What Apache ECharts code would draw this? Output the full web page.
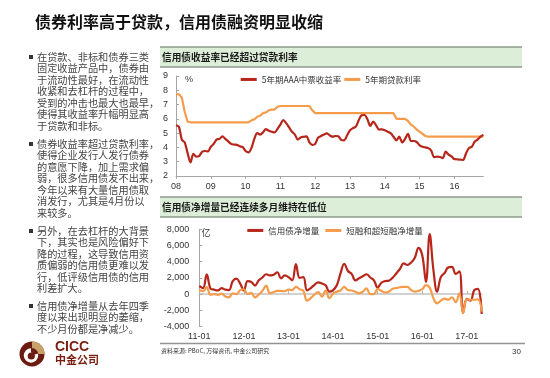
<!DOCTYPE html>
<html><head><meta charset="utf-8">
<script src="https://cdn.jsdelivr.net/npm/echarts@6/dist/echarts.min.js"></script>
<style>html,body{margin:0;padding:0;background:#fff;}#c{width:550px;height:378px;}</style>
</head><body><div id="c"></div>
<script>
// ---------- data ----------
const topMonths = [];
for (let y = 2008; y <= 2016; y++) for (let m = 1; m <= 12; m++) { if (y === 2016 && m > 11) break; topMonths.push(y + '-' + (m < 10 ? '0' + m : m)); }
const bottomMonths = [];
for (let y = 2011; y <= 2017; y++) for (let m = 1; m <= 12; m++) { if (y === 2017 && m > 5) break; bottomMonths.push(y + '-' + (m < 10 ? '0' + m : m)); }

const topTickLabels = ['08','09','10','11','12','13','14','15','16'];
const bottomTickLabels = ['11-01','12-01','13-01','14-01','15-01','16-01','17-01'];

const topSeriesNames = ['5年期AAA中票收益率', '5年期贷款利率'];
const bottomSeriesNames = ['信用债净增量', '短融和超短融净增量'];

const aaaYield = [
 5.55,5.45,4.55,4.35,3.6,2.95,3.55,3.35,3.4,3.7,3.75,3.72,
 4.05,4.25,4.55,4.6,4.78,4.6,4.42,4.25,4.2,4.18,4.08,4.02,
 3.75,3.65,3.95,4.6,5.0,4.9,5.05,5.28,5.17,5.1,5.05,5.3,
 5.6,5.92,5.7,5.4,5.1,4.9,4.55,4.7,4.75,4.78,4.35,4.18,
 4.25,4.68,4.8,4.9,4.98,4.85,4.75,4.8,4.78,4.52,4.5,4.85,
 5.2,5.35,5.45,5.9,6.25,6.27,5.97,5.5,5.8,5.55,5.25,5.27,
 5.2,5.1,5.0,4.75,4.5,4.75,4.35,4.6,4.95,4.45,4.45,4.38,
 4.15,4.05,4.0,3.95,3.78,3.32,3.35,3.33,3.25,3.7,3.5,3.38,
 3.18,3.17,3.15,3.12,3.58,3.95,4.05,4.4,4.55,4.75,4.88
];
const loanRate = [
 7.74,7.72,7.5,6.5,5.8,5.76,5.76,5.76,5.76,5.76,5.76,5.76,
 5.76,5.76,5.76,5.76,5.76,5.76,5.76,5.76,5.76,5.76,5.76,5.76,
 5.76,5.76,5.9,5.96,6.15,6.22,6.4,6.45,6.6,6.65,6.65,6.85,
 6.9,6.9,6.9,6.9,6.9,6.9,6.9,6.9,6.9,6.9,6.9,6.6,
 6.4,6.4,6.4,6.4,6.4,6.4,6.4,6.4,6.4,6.4,6.4,6.4,
 6.4,6.4,6.4,6.4,6.4,6.4,6.4,6.4,6.4,6.4,6.4,6.4,
 6.4,6.4,6.4,6.4,6.0,6.0,6.0,6.0,5.85,5.6,5.45,5.25,
 5.1,4.95,4.8,4.75,4.75,4.75,4.75,4.75,4.75,4.75,4.75,4.75,
 4.75,4.75,4.75,4.75,4.75,4.75,4.75,4.75,4.75,4.75,4.75
];
const creditNet = [
 1000,750,2450,700,550,450,750,550,500,1600,1900,1300,
 450,1600,1500,1050,1700,2050,2450,2300,2400,2700,1950,2300,
 2100,1700,3700,2000,2100,450,750,1150,1450,1300,1100,300,
 500,1100,2550,3750,2850,2500,1700,1950,2200,2450,2050,1700,
 800,1400,1600,1650,2000,2550,3100,3800,3600,3900,4500,5700,
 4800,1500,7400,3000,300,2100,2600,3300,3350,2500,2800,-2300,
 -600,-800,500,650,-2450
];
const shortTermNet = [
 500,350,850,-100,0,-100,50,-300,-400,100,0,500,
 600,0,150,-400,-50,400,1050,100,250,400,400,350,
 550,500,900,600,400,-800,-500,-50,250,-300,450,-500,
 50,300,450,900,500,450,300,100,300,700,0,0,
 650,400,200,300,650,750,850,900,900,500,300,400,
 600,1100,800,-500,-1150,-800,-550,-700,-400,-1000,100,-2350,
 -650,-700,-700,-650,-2150
];

// ---------- texts ----------
const slideTitle = '债券利率高于贷款，信用债融资明显收缩';
const chart1Title = '信用债收益率已经超过贷款利率';
const chart2Title = '信用债净增量已经连续多月维持在低位';
const bullets = [
 '在贷款、非标和债券三类\n固定收益产品中，债券由\n于流动性最好，在流动性\n收紧和去杠杆的过程中，\n受到的冲击也最大也最早，\n使得其收益率升幅明显高\n于贷款和非标。',
 '债券收益率超过贷款利率，\n使得企业发行人发行债券\n的意愿下降，加上需求偏\n弱，很多信用债发不出来，\n今年以来有大量信用债取\n消发行，尤其是4月份以\n来较多。',
 '另外，在去杠杆的大背景\n下，其实也是风险偏好下\n降的过程，这导致信用资\n质偏弱的信用债更难以发\n行，低评级信用债的信用\n利差扩大。',
 '信用债净增量从去年四季\n度以来出现明显的萎缩，\n不少月份都是净减少。'
];
const sourceText = '资料来源: PBoC, 万得资讯, 中金公司研究';

// ---------- styles ----------
const SANS = '"Noto Sans CJK SC", "Noto Sans", sans-serif';
const NUM = '"Liberation Sans", Arial, sans-serif';
const RED = '#b7261a';
const ORANGE = '#f59c4a';
const AXIS = '#a6a6a6';

function txt(x, y, text, font, fill, extra) {
  return Object.assign({ type: 'text', x: x, y: y, silent: true,
    style: { text: text, font: font, fill: fill, align: 'left', textAlign: 'left', verticalAlign: 'middle', textVerticalAlign: 'middle' } }, extra || {});
}

const graphics = [];
graphics.push(txt(35, 22, slideTitle, 'bold 16px ' + SANS, '#111'));
const bulletTops = [57, 144, 231, 306];
bullets.forEach(function (b, k) {
  graphics.push({ type: 'rect', silent: true, shape: { x: 29, y: bulletTops[k] - 2, width: 4, height: 4 }, style: { fill: '#333' } });
  graphics.push({ type: 'text', x: 37, y: bulletTops[k] - 5.75, silent: true,
    style: { text: b, font: '10.2px ' + SANS, fill: '#444', lineHeight: 11.5, align: 'left', textAlign: 'left', verticalAlign: 'top', textVerticalAlign: 'top' } });
});
[[47, chart1Title], [197, chart2Title]].forEach(function (h) {
  graphics.push({ type: 'rect', silent: true, shape: { x: 160, y: h[0], width: 362, height: 20 }, style: { fill: '#dcedd8' } });
  graphics.push({ type: 'line', silent: true, shape: { x1: 160, y1: h[0], x2: 522, y2: h[0] }, style: { stroke: '#8e998d', lineWidth: 1.5 } });
  graphics.push({ type: 'line', silent: true, shape: { x1: 160, y1: h[0] + 20, x2: 522, y2: h[0] + 20 }, style: { stroke: '#8e998d', lineWidth: 1.5 } });
  graphics.push(txt(162, h[0] + 10, h[1], 'bold 9.7px ' + SANS, '#1a1a1a'));
});
graphics.push(txt(185, 79.5, '%', '9px ' + NUM, '#333'));
graphics.push(txt(201.5, 232.5, '亿', '9px ' + SANS, '#333'));
graphics.push({ type: 'line', silent: true, shape: { x1: 160, y1: 343.5, x2: 525, y2: 343.5 }, style: { stroke: '#939393', lineWidth: 1.5 } });
graphics.push(txt(161, 350.5, sourceText, '6px ' + SANS, '#333'));
graphics.push(txt(512, 352, '30', '8px ' + NUM, '#333'));
// logo
graphics.push({ type: 'circle', silent: true, shape: { cx: 32, cy: 354, r: 12.5 }, style: { fill: '#6b1b0f' } });
graphics.push({ type: 'sector', silent: true, shape: { cx: 32, cy: 354, r: 12.5, r0: 0, startAngle: -Math.PI / 2, endAngle: 0, clockwise: true }, style: { fill: '#c9a26a' } });
graphics.push({ type: 'circle', silent: true, shape: { cx: 31, cy: 355.5, r: 7.2 }, style: { fill: '#ffffff' } });
graphics.push({ type: 'circle', silent: true, shape: { cx: 31.3, cy: 356, r: 3.6 }, style: { fill: '#6b1b0f' } });
graphics.push({ type: 'sector', silent: true, shape: { cx: 31, cy: 355.5, r: 7.6, r0: 3, startAngle: -Math.PI / 2, endAngle: -0.25, clockwise: true }, style: { fill: '#6b1b0f' } });
graphics.push(txt(55, 347, 'CICC', 'bold 14px ' + NUM, '#7a1d10'));
graphics.push(txt(55, 359.5, '中金公司', 'bold 11px ' + SANS, '#7a1d10'));

const yearTick = function (i) { return i % 12 === 0; };

const option = {
  animation: false,
  backgroundColor: '#ffffff',
  graphic: { elements: graphics },
  grid: [
    { left: 176, right: 66.6, top: 76, bottom: 202, outerBoundsMode: 'none', containLabel: false },
    { left: 199.3, right: 68.3, top: 229.3, bottom: 51.5, outerBoundsMode: 'none', containLabel: false }
  ],
  legend: [
    { data: topSeriesNames, left: 240.7, top: 75.2, padding: 0, icon: 'rect', itemWidth: 16, itemHeight: 3, itemGap: 3,
      selectedMode: false, textStyle: { fontSize: 8.5, color: '#333', fontFamily: SANS } },
    { data: bottomSeriesNames, left: 247.3, top: 226.2, padding: 0, icon: 'rect', itemWidth: 16, itemHeight: 3, itemGap: 6,
      selectedMode: false, textStyle: { fontSize: 8.5, color: '#333', fontFamily: SANS } }
  ],
  xAxis: [
    { gridIndex: 0, type: 'category', data: topMonths, boundaryGap: false,
      axisLine: { show: true, lineStyle: { color: AXIS, width: 1 } },
      axisTick: { show: true, inside: false, length: 3, interval: yearTick, lineStyle: { color: AXIS } },
      axisLabel: { interval: yearTick, formatter: function (v, i) { return topTickLabels[i / 12]; }, color: '#333', fontSize: 9, fontFamily: NUM, margin: 6 },
      splitLine: { show: false } },
    { gridIndex: 1, type: 'category', data: bottomMonths, boundaryGap: false,
      axisLine: { show: true, onZero: true, lineStyle: { color: '#c4c4c4', width: 1.5 } },
      axisTick: { show: true, inside: true, length: 3, interval: yearTick, lineStyle: { color: '#b0b0b0' } },
      axisLabel: { interval: yearTick, formatter: function (v, i) { return bottomTickLabels[i / 12]; }, color: '#333', fontSize: 9, fontFamily: NUM, margin: 6 },
      splitLine: { show: false } }
  ],
  yAxis: [
    { gridIndex: 0, type: 'value', min: 2, max: 9, interval: 1,
      axisLine: { show: true, lineStyle: { color: AXIS, width: 1 } },
      axisTick: { show: true, inside: true, length: 3, lineStyle: { color: AXIS } },
      axisLabel: { color: '#333', fontSize: 9, fontFamily: NUM, margin: 8 },
      splitLine: { show: false } },
    { gridIndex: 1, type: 'value', min: -4000, max: 8000, interval: 2000,
      axisLine: { show: true, lineStyle: { color: AXIS, width: 1 } },
      axisTick: { show: true, inside: true, length: 3, lineStyle: { color: AXIS } },
      axisLabel: { color: '#333', fontSize: 9, fontFamily: NUM, margin: 10, formatter: function (v) { return v.toLocaleString('en-US'); } },
      splitLine: { show: false } }
  ],
  series: [
    { name: topSeriesNames[1], type: 'line', xAxisIndex: 0, yAxisIndex: 0, data: loanRate, showSymbol: false, symbol: 'none',
      lineStyle: { color: ORANGE, width: 2.2 }, itemStyle: { color: ORANGE }, z: 2 },
    { name: topSeriesNames[0], type: 'line', xAxisIndex: 0, yAxisIndex: 0, data: aaaYield, showSymbol: false, symbol: 'none', smooth: 0.3,
      lineStyle: { color: RED, width: 2.2 }, itemStyle: { color: RED }, z: 3 },
    { name: bottomSeriesNames[0], type: 'line', xAxisIndex: 1, yAxisIndex: 1, data: creditNet, showSymbol: false, symbol: 'none', smooth: 0.4,
      lineStyle: { color: RED, width: 2.2 }, itemStyle: { color: RED }, z: 2 },
    { name: bottomSeriesNames[1], type: 'line', xAxisIndex: 1, yAxisIndex: 1, data: shortTermNet, showSymbol: false, symbol: 'none', smooth: 0.4,
      lineStyle: { color: ORANGE, width: 2.2 }, itemStyle: { color: ORANGE }, z: 3 }
  ]
};

const chart = echarts.init(document.getElementById('c'), null, { renderer: 'canvas', width: 550, height: 378 });
chart.setOption(option);
</script></body></html>
